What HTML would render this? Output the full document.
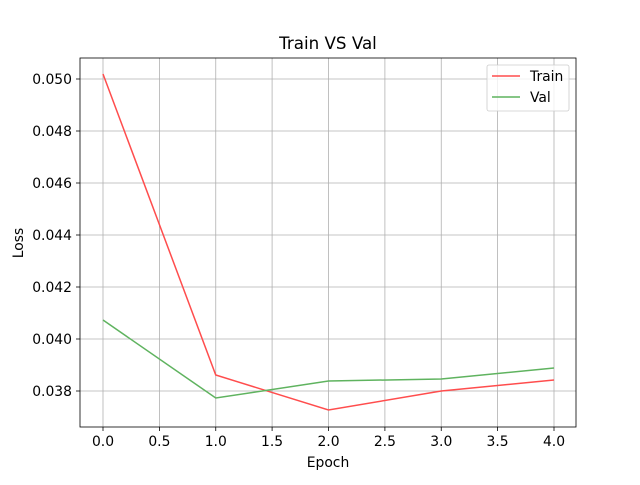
<!DOCTYPE html>
<html><head><meta charset="utf-8"><style>body{margin:0;background:#fff}</style></head><body>
<svg width="640" height="480" xmlns="http://www.w3.org/2000/svg" font-family="DejaVu Sans, Liberation Sans, sans-serif">
<rect width="640" height="480" fill="#fff"/>
<g stroke="#b0b0b0" stroke-width="0.8">
<line x1="103" y1="58" x2="103" y2="427"/><line x1="159.4" y1="58" x2="159.4" y2="427"/><line x1="215.75" y1="58" x2="215.75" y2="427"/><line x1="272.1" y1="58" x2="272.1" y2="427"/><line x1="328.5" y1="58" x2="328.5" y2="427"/><line x1="384.9" y1="58" x2="384.9" y2="427"/><line x1="441.25" y1="58" x2="441.25" y2="427"/><line x1="497.6" y1="58" x2="497.6" y2="427"/><line x1="554" y1="58" x2="554" y2="427"/>
<line x1="80" y1="79" x2="576" y2="79"/><line x1="80" y1="131" x2="576" y2="131"/><line x1="80" y1="183" x2="576" y2="183"/><line x1="80" y1="235" x2="576" y2="235"/><line x1="80" y1="287" x2="576" y2="287"/><line x1="80" y1="339" x2="576" y2="339"/><line x1="80" y1="391" x2="576" y2="391"/>
</g>
<polyline points="103,74 215.75,375 328.5,410 441.25,391 554,380" fill="none" stroke="#ff4d4d" stroke-width="1.5"/>
<polyline points="103,320 215.75,398 328.5,381 441.25,379 554,368" fill="none" stroke="#5fb35f" stroke-width="1.5"/>
<rect x="80" y="58" width="496" height="369" fill="none" stroke="#000" stroke-width="0.8"/>
<g stroke="#000" stroke-width="0.8">
<line x1="103" y1="427" x2="103" y2="431"/><line x1="159.4" y1="427" x2="159.4" y2="431"/><line x1="215.75" y1="427" x2="215.75" y2="431"/><line x1="272.1" y1="427" x2="272.1" y2="431"/><line x1="328.5" y1="427" x2="328.5" y2="431"/><line x1="384.9" y1="427" x2="384.9" y2="431"/><line x1="441.25" y1="427" x2="441.25" y2="431"/><line x1="497.6" y1="427" x2="497.6" y2="431"/><line x1="554" y1="427" x2="554" y2="431"/>
<line x1="76" y1="79" x2="80" y2="79"/><line x1="76" y1="131" x2="80" y2="131"/><line x1="76" y1="183" x2="80" y2="183"/><line x1="76" y1="235" x2="80" y2="235"/><line x1="76" y1="287" x2="80" y2="287"/><line x1="76" y1="339" x2="80" y2="339"/><line x1="76" y1="391" x2="80" y2="391"/>
</g>
<g font-size="13.9" fill="#000" text-anchor="middle">
<text x="103" y="446">0.0</text><text x="159.4" y="446">0.5</text><text x="215.75" y="446">1.0</text><text x="272.1" y="446">1.5</text><text x="328.5" y="446">2.0</text><text x="384.9" y="446">2.5</text><text x="441.25" y="446">3.0</text><text x="497.6" y="446">3.5</text><text x="554" y="446">4.0</text>
</g>
<g font-size="13.9" fill="#000" text-anchor="end">
<text x="72" y="84">0.050</text><text x="72" y="136">0.048</text><text x="72" y="188">0.046</text><text x="72" y="240">0.044</text><text x="72" y="292">0.042</text><text x="72" y="344">0.040</text><text x="72" y="396">0.038</text>
</g>
<text x="328" y="467" font-size="13.9" text-anchor="middle">Epoch</text>
<text x="23" y="243" font-size="13.9" text-anchor="middle" transform="rotate(-90 23 243)">Loss</text>
<text x="328" y="49" font-size="16.7" text-anchor="middle">Train VS Val</text>
<rect x="487" y="65" width="82" height="46" rx="2" fill="#fff" fill-opacity="0.8" stroke="#ccc" stroke-width="0.8"/>
<line x1="492" y1="76" x2="520" y2="76" stroke="#ff4d4d" stroke-width="1.5"/>
<line x1="492" y1="97" x2="520" y2="97" stroke="#5fb35f" stroke-width="1.5"/>
<text x="530" y="81" font-size="13.9">Train</text>
<text x="530" y="102" font-size="13.9">Val</text>
</svg>
</body></html>
